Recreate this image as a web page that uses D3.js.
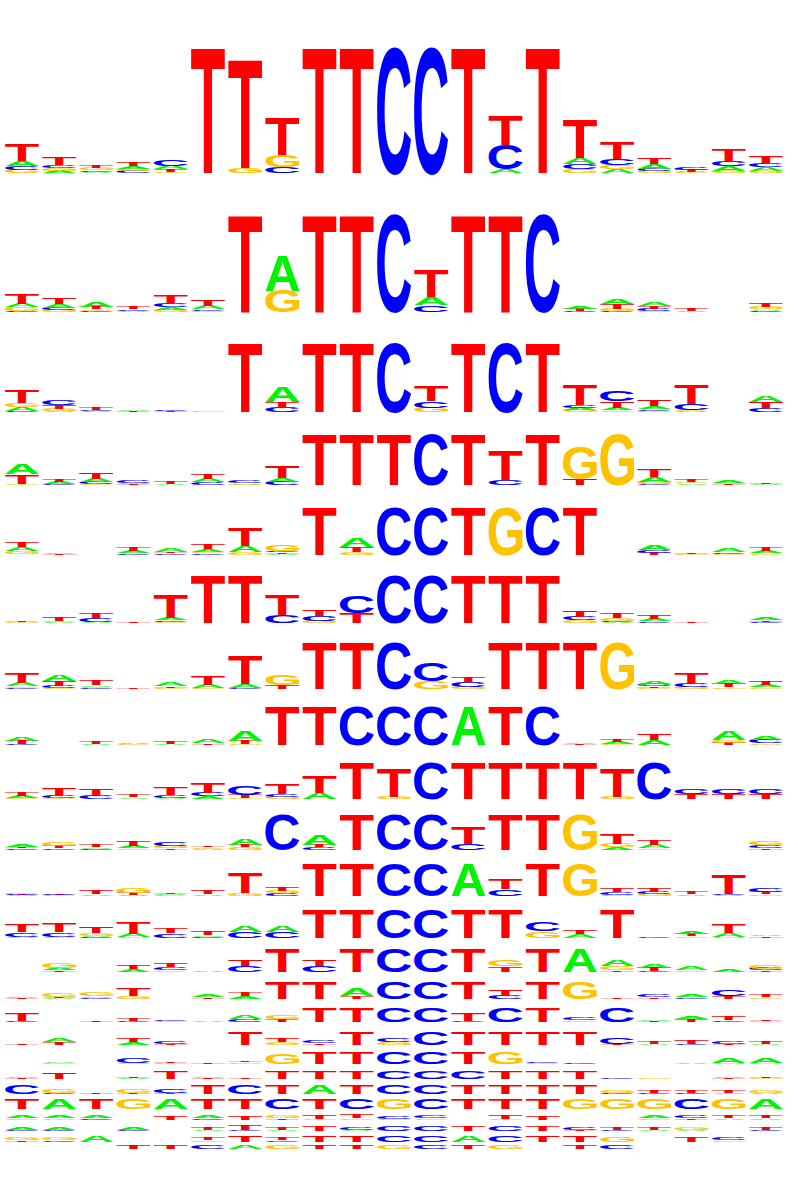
<!DOCTYPE html>
<html><head><meta charset="utf-8">
<script src="https://cdn.jsdelivr.net/npm/d3@7"></script>
<style>body{margin:0;background:#fff}</style>
</head><body>
<svg id="chart" width="798" height="1200"></svg>
<script>
// ---------- data ----------
const positions = d3.range(1, 22);
const bases = ["A", "C", "G", "T"];
const baseColors = ["#00f400", "#0000ff", "#ffc200", "#ff0000"];

// each column: letter + height in bits
const row01 = ["T.27 A.08 C.065 G.05","T.13 G.045 A.035 C.045","T.035 C.025 A.02 G.03","T.055 A.045 C.03 G.03","C.09 T.04 A.05 G.02","T1.99","T1.71 G.075","T.6 G.19 C.09","T1.99","T1.99","C1.99","C1.99","T1.99","T.46 C.38 A.06","T1.99","T.61 A.1 C.08 G.06","T.26 C.1 G.065 A.06","T.1 A.08 C.04 G.03","T.03 C.035 G.01 A.01","T.18 C.08 A.07 G.035","T.12 A.06 C.06 G.03"];
const row02 = ["T.21 A.07 G.065 C.03","T.12 A.07 C.05 G.04","A.1 T.04 G.035 C.03","T.05 C.035 A.03","T.17 C.07 A.05 G.045","T.12 A.07 C.03 G.025","T1.99","A.72 G.44","T1.99","T1.99","C1.99","T.55 A.16 C.14","T1.99","T1.99","C1.99","A.06 T.04 C.03","A.1 T.09 G.04 C.03","A.09 T.06 C.04 G.03","T.04 A.03","","T.08 G.04 A.03 C.025"];
const row03 = ["T.38 G.12 A.1 C.04","C.13 T.11 G.07 A.02","T.07 A.03 C.03","A.04 T.03","C.035 T.03","G.025","T1.99","A.45 T.16 C.14","T1.99","T1.99","C1.99","T.43 C.2 G.13","T1.99","C1.99","T1.99","T.58 C.08 A.07 G.06","C.31 T.2 A.08 G.05","T.17 A.08 C.05 G.04","T.55 C.17 G.04 A.03","","A.2 T.17 C.12"];
const row04 = ["A.42 T.38 G.06","T.1 A.08 C.06","T.25 A.13 C.1 G.03","C.08 G.04 T.03 A.03","T.08 A.05","T.2 A.13 C.11","C.1 G.06 A.02","T.44 A.15 C.13","T1.99","T1.99","T1.99","C1.99","T1.99","T1.2 C.22","T1.99","G1.27 T.23","G1.99","T.3 A.2 G.08 C.03","T.12 G.07 A.065","A.08 G.05 T.04","T.04 A.03"];
const row05 = ["T.21 A.17 G.12 C.02","A.05 T.04","","T.13 A.08 C.06","A.13 T.06 C.055","T.21 A.11 G.06 C.055","T.77 A.25 G.1","G.25 C.06 T.05 A.04","T1.99","A.35 T.2 G.1","C1.99","C1.99","T1.99","G1.99","C1.99","T1.99","","A.2 C.1 T.08","T.05 G.04","A.13 C.07 G.03","T.13 A.1 G.06"];
const row06 = ["T.04 G.03","T.16 G.05 A.04","T.2 C.16 A.06","T.05","T.96 A.1 C.06 G.05","T1.99","T1.99","T.83 C.33","T.28 C.22 G.09","C.69 T.41","C1.99","C1.99","T1.99","T1.99","T1.99","T.26 C.14 G.12","T.23 G.1 C.05 A.045","T.18 A.1 C.07","T.06","","A.1 T.06 C.05"];
const row07 = ["T.43 A.15 G.07 C.06","A.29 T.2 C.1 G.03","T.22 A.07 G.05 C.045","T.04","A.15 T.07 G.05","T.36 A.14 G.05","T1.23 A.15 C.06","G.43 T.17","T1.99","T1.99","C1.99","C.8 G.35","T.22 C.19 G.1","T1.99","T1.99","T1.99","G1.99","A.15 C.08 T.07 G.04","T.43 C.14 G.1","A.17 T.14 G.07","T.17 A.11 G.07"];
const row08 = ["A.21 T.17 C.05","","T.1 A.05","A.09 G.04","T.1 A.05","A.17 T.08","A.52 T.17 G.06","T1.99","T1.99","C1.99","C1.99","C1.99","A1.99","T1.99","C1.99","A.05 T.04","T.12 A.1 G.03","T.35 A.26","","A.45 G.14 T.12","A.2 C.17 G.08"];
const row09 = ["T.18 A.12 G.04","T.4 C.12 G.04","T.37 C.22","T.16 A.09","T.42 C.16 A.04","T.55 C.18 A.15","C.46 T.18 G.06","T.55 C.16 G.12","T.92 A.31","T1.99","T1.52 G.13","C1.99","T1.99","T1.99","T1.99","T1.99","T1.52 G.13","C1.99","C.28 T.27","C.28 T.27","C.28 T.27"];
const row10 = ["A.14 T.08 C.06","G.19 T.11 C.08","T.12 A.07 C.05","T.32 A.15 G.06","C.19 G.12 T.08","T.1 G.07 A.05","A.34 T.15 G.12","C1.99","A.57 T.15 C.13","T1.99","C1.99","C1.99","T.95 C.34","T1.99","T1.99","G1.99","T.57 G.19 A.15","T.25 A.19 G.06","","","G.19 C.15 T.08"];
const row11 = ["G.035 A.03 T.03 C.03","G.03 T.03 C.03","T.19 A.09","G.28 T.15 A.03","G.04 A.04 T.04","T.19 A.09","T1.24 G.13","T.22 G.15 C.14","T1.99","T1.99","C1.99","C1.99","A1.99","T.61 C.4","T1.99","G1.99","T.24 C.18 G.06","T.24 C.13 G.11","T.14 A.07","T1.2 C.07 A.05","C.22 T.12 G.1"];
const row12 = ["T.53 C.3 A.06","T.62 C.3 G.06","T.46 G.16 A.07 C.05","T.8 A.23 G.04","T.34 C.3","T.23 A.08 C.06","A.46 C.41","A.46 C.41","T1.99","T1.99","C1.99","C1.99","T1.99","T1.99","C.57 G.46","T.28 A.23","T1.99","C.05","A.16 T.14 G.07","T.57 A.23 G.05","A.1 T.07"];
const row13 = ["","G.43 A.2 T.14","","T.3 A.2","T.3 C.25 G.1","A.15","T.57 C.48","T1.99","T.53 C.5","T1.99","C1.99","C1.99","T1.99","G.5 T.45","T1.99","A1.99","A.57 G.34 T.1","A.3 T.28 C.05","A.28 G.12","A.2","G.28 C.15 T.1"];
const row14 = ["A.07 T.06","G.46 T.12 A.1","G.46 A.2 C.1","T.92 G.3","","A.27 T.2","T.38 A.3","T1.99","T1.99","A.92 T.3","C1.99","C1.99","T1.99","T.77 C.38","T1.99","G1.99","T.1","C.27 T.2","A.35 C.2 G.05","C.7 T.3","T.27 G.18"];
const row15 = ["T1.05 C.1","","T.1","T.35 C.1","C.1 G.08","A.1","A.6 C.3","G.55 T.3","T1.99","T1.99","C1.99","C1.99","T1.1 C.1","C1.99","T1.99","C.3 G.2","C1.99","A.12 T.1","A.3 T.28","T.45 C.15","T.1 G.08"];
const row16 = ["T.1","A.5 T.45","","T.55 A.4","C.4 T.1","","T1.99","T.5 G.45","C.45 T.25","T1.99","C.5 G.35","C1.99","T1.99","T1.99","T1.99","T1.99","C.95 T.1","T.35 A.1","T.6 C.15","C.4 T.1","T.35 A.1"];
const row17 = ["","A.15 G.1","","C.9 G.15","T.15 G.12","T.3","T.3 G.2","G1.8","T1.99","T1.99","C1.99","C1.99","T1.99","G1.99","C.15 G.1","C.3","","","A.25","A.9 G.15","A.9 G.15"];
const row18 = ["A.35 T.15","T1.7","","T.3 A.15","T1.9","A.35 T.15","T.15","T1.99","T1.99","T1.99","C1.99","C1.99","C1.99","T1.99","T1.99","T1.99","C.15","G.15","","A.35 T.15","T.3 G.15"];
const row19 = ["C1.99","G.8 C.2","T.2","G.8 T.2","C.9 T.2","T1.99","C1.99","T1.99","A1.99","T1.99","C1.99","C1.99","T1.99","T1.99","T1.99","T1.99","G.5 C.2","T.5 C.2","T.5 C.2","T.5 A.2","G.5 A.2"];
const row20 = ["T1.99","A1.99","T1.99","G1.99","A1.99","T1.99","T1.99","C1.99","T1.99","C1.99","G1.99","C1.99","T1.99","T1.99","T1.99","G1.99","G1.99","G1.99","C1.99","G1.99","A1.99"];
const row21 = ["A.5 G.3","A.5 G.3","A.5 C.3","","T.7","A.5 C.3","T.8","G.6 T.3","T.7 G.2","T.7 G.25","C.6 G.2","C.45 G.25","","T.7 G.2","T.7","","","A.45 G.25","C.45 T.3","T.45 A.3","T.45 A.3"];
const row22 = ["A.4 C.3","A.4 C.3","","A.4 C.3","","T.45 A.3","T1.0 C.3","T.45 A.3","T1.0","C.5 A.3","C1.1","C1.1","T1.1","C1.1","T1.0","C.5 T.3","T.4 C.3","T.4 A.3","G.4 A.3","","T.4 C.3"];
const row23 = ["G.5 T.3","G.5 C.3","A1.3","","","T.5 G.3","T1.3","T.5 C.3","T1.3","T1.3","C1.3","C1.3","A1.3","C1.3","T1.3","T1.3","G.9","","T.9","C.4 G.3",""];
const row24 = ["","","","T.8","T.8","C.8","A.8","G.8","T.8","T.8","G.8","C.8","T.8","G.8","","T.8","C.8","","","",""];

const motifs = [row01,row02,row03,row04,row05,row06,row07,row08,row09,row10,row11,row12,
                row13,row14,row15,row16,row17,row18,row19,row20,row21,row22,row23,row24];

// ---------- layout (pixels) ----------
const rowBaseline = [173,312,412,485,554.5,623,689,745,799,849.5,895.5,937.5,
                     971.5,999,1021.5,1044.5,1063.5,1078.5,1093.5,1108.5,1119.5,1131,1141.7,1148.5];
const rowHeight   = [126,97,68.5,50,48,48,46,38.5,36.5,35,32.5,29,
                     23.5,17.3,14.4,13.3,11,8,9,10,10,10,10,10];

// ---------- drawing ----------
const FAMILY = "Liberation Sans";
const FS = 200;
const ctx = document.createElement("canvas").getContext("2d");
ctx.font = `bold ${FS}px '${FAMILY}'`;
const capH = ctx.measureText("T").actualBoundingBoxAscent;
const metrics = {};
bases.forEach(b => {
  const m = ctx.measureText(b);
  metrics[b] = {l: m.actualBoundingBoxLeft, r: m.actualBoundingBoxRight};
});

const parse = s => s.trim() === "" ? [] : s.trim().split(/\s+/).map(t => ({b: t[0], v: +t.slice(1)}));

const svg = d3.select("#chart");
const x = d3.scaleBand().domain(positions).range([3.4, 784.6]).paddingInner(0.086).paddingOuter(0.043);
const color = d3.scaleOrdinal().domain(bases).range(baseColors);

motifs.forEach((cols, i) => {
  const y = d3.scaleLinear().domain([0, 2]).range([rowBaseline[i], rowBaseline[i] - rowHeight[i]]);
  const g = svg.append("g").attr("class", "motif");
  cols.forEach((colStr, j) => {
    const items = parse(colStr).filter(d => d.v > 0).sort((a, b) => a.v - b.v);
    let acc = 0;
    items.forEach(it => {
      const y0 = y(acc), y1 = y(acc + it.v);
      acc += it.v;
      const h = y0 - y1, w = x.bandwidth(), m = metrics[it.b];
      g.append("text")
        .text(it.b)
        .attr("font-family", FAMILY)
        .attr("font-weight", "bold")
        .attr("font-size", FS)
        .attr("fill", color(it.b))
        .attr("transform", `translate(${x(positions[j])},${y0}) scale(${w / (m.l + m.r)},${h / capH}) translate(${m.l},0)`);
    });
  });
});
</script>
</body></html>
